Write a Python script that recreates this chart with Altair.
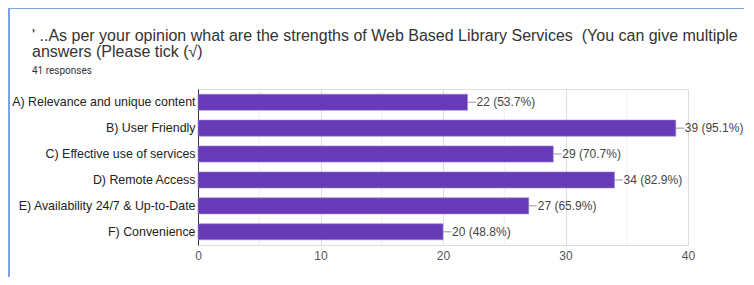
import altair as alt
import pandas as pd

categories = [
    "A) Relevance and unique content",
    "B) User Friendly",
    "C) Effective use of services",
    "D) Remote Access",
    "E) Availability 24/7 & Up-to-Date",
    "F) Convenience",
]
counts = [22, 39, 29, 34, 27, 20]
percents = ["53.7%", "95.1%", "70.7%", "82.9%", "65.9%", "48.8%"]
major_ticks = [0, 10, 20, 30, 40]
minor_ticks = [5, 15, 25, 35]

title_lines = [
    "' ..As per your opinion what are the strengths of Web Based Library Services \u00a0(You can give multiple",
    "answers (Please tick (\u221a)",
]
subtitle = "41 responses"

df = pd.DataFrame({"cat": categories, "count": counts, "pct": percents})
df["label"] = df["count"].astype(str) + " (" + df["pct"] + ")"
df["lead"] = df["count"] + 0.7
minor_df = pd.DataFrame({"v": minor_ticks})

FONT = "Liberation Sans"

x_scale = alt.Scale(domain=[0, 40], nice=False)
y_enc = alt.Y(
    "cat:N",
    sort=categories,
    scale=alt.Scale(paddingInner=0.38, paddingOuter=0.2),
    axis=alt.Axis(
        title=None, ticks=False, domain=True, domainColor="#333333", domainWidth=1,
        labelColor="#222222", labelFontSize=12.4, labelFont=FONT, labelPadding=3,
        labelLimit=400, grid=False,
    ),
)

minor = alt.Chart(minor_df).mark_rule(color="#efefef", strokeWidth=1).encode(
    x=alt.X("v:Q", scale=x_scale)
)

bars = alt.Chart(df).mark_bar(color="#673ab7", stroke="#9a7fd0", strokeWidth=0.6).encode(
    x=alt.X(
        "count:Q",
        scale=x_scale,
        axis=alt.Axis(
            values=major_ticks, title=None, domain=False, ticks=False,
            grid=True, gridColor="#dddddd", labelColor="#555555",
            labelFontSize=12, labelFont=FONT, labelPadding=5, labelFlush=False,
        ),
    ),
    y=y_enc,
)

leads = alt.Chart(df).mark_rule(color="#999999", strokeWidth=1).encode(
    x="count:Q", x2="lead:Q", y=alt.Y("cat:N", sort=categories)
)

labels = alt.Chart(df).mark_text(
    align="left", baseline="middle", dx=9, fontSize=12, font=FONT, color="#444444"
).encode(
    x="count:Q", y=alt.Y("cat:N", sort=categories), text="label:N"
)

border_left = alt.Chart(df).mark_rule(color="#7ba3e6", strokeWidth=1.5).encode(
    x=alt.value(-189), y=alt.value(-81), y2=alt.value(200)
)
border_top = alt.Chart(df).mark_rule(color="#7ba3e6", strokeWidth=1).encode(
    x=alt.value(-189), x2=alt.value(560), y=alt.value(-81)
)

chart = (
    alt.layer(border_left, border_top, minor, bars, leads, labels)
    .properties(
        width=490,
        height=156,
        autosize=alt.AutoSizeParams(type="none"),
        padding={"left": 190, "top": 81, "right": 56, "bottom": 32},
        title=alt.TitleParams(
            text=title_lines,
            subtitle=subtitle,
            anchor="start",
            frame="group",
            dx=-166,
            offset=-69,
            font=FONT,
            fontSize=16,
            fontWeight="normal",
            lineHeight=16,
            color="#333333",
            subtitleFont="Roboto",
            subtitleFontSize=10,
            subtitleColor="#333333",
            subtitlePadding=6,
        ),
    )
    .configure_view(stroke="#e8e8e8")
    .configure(background="white")
)

chart.save("out.html", embed_options={"renderer": "svg", "actions": False})
